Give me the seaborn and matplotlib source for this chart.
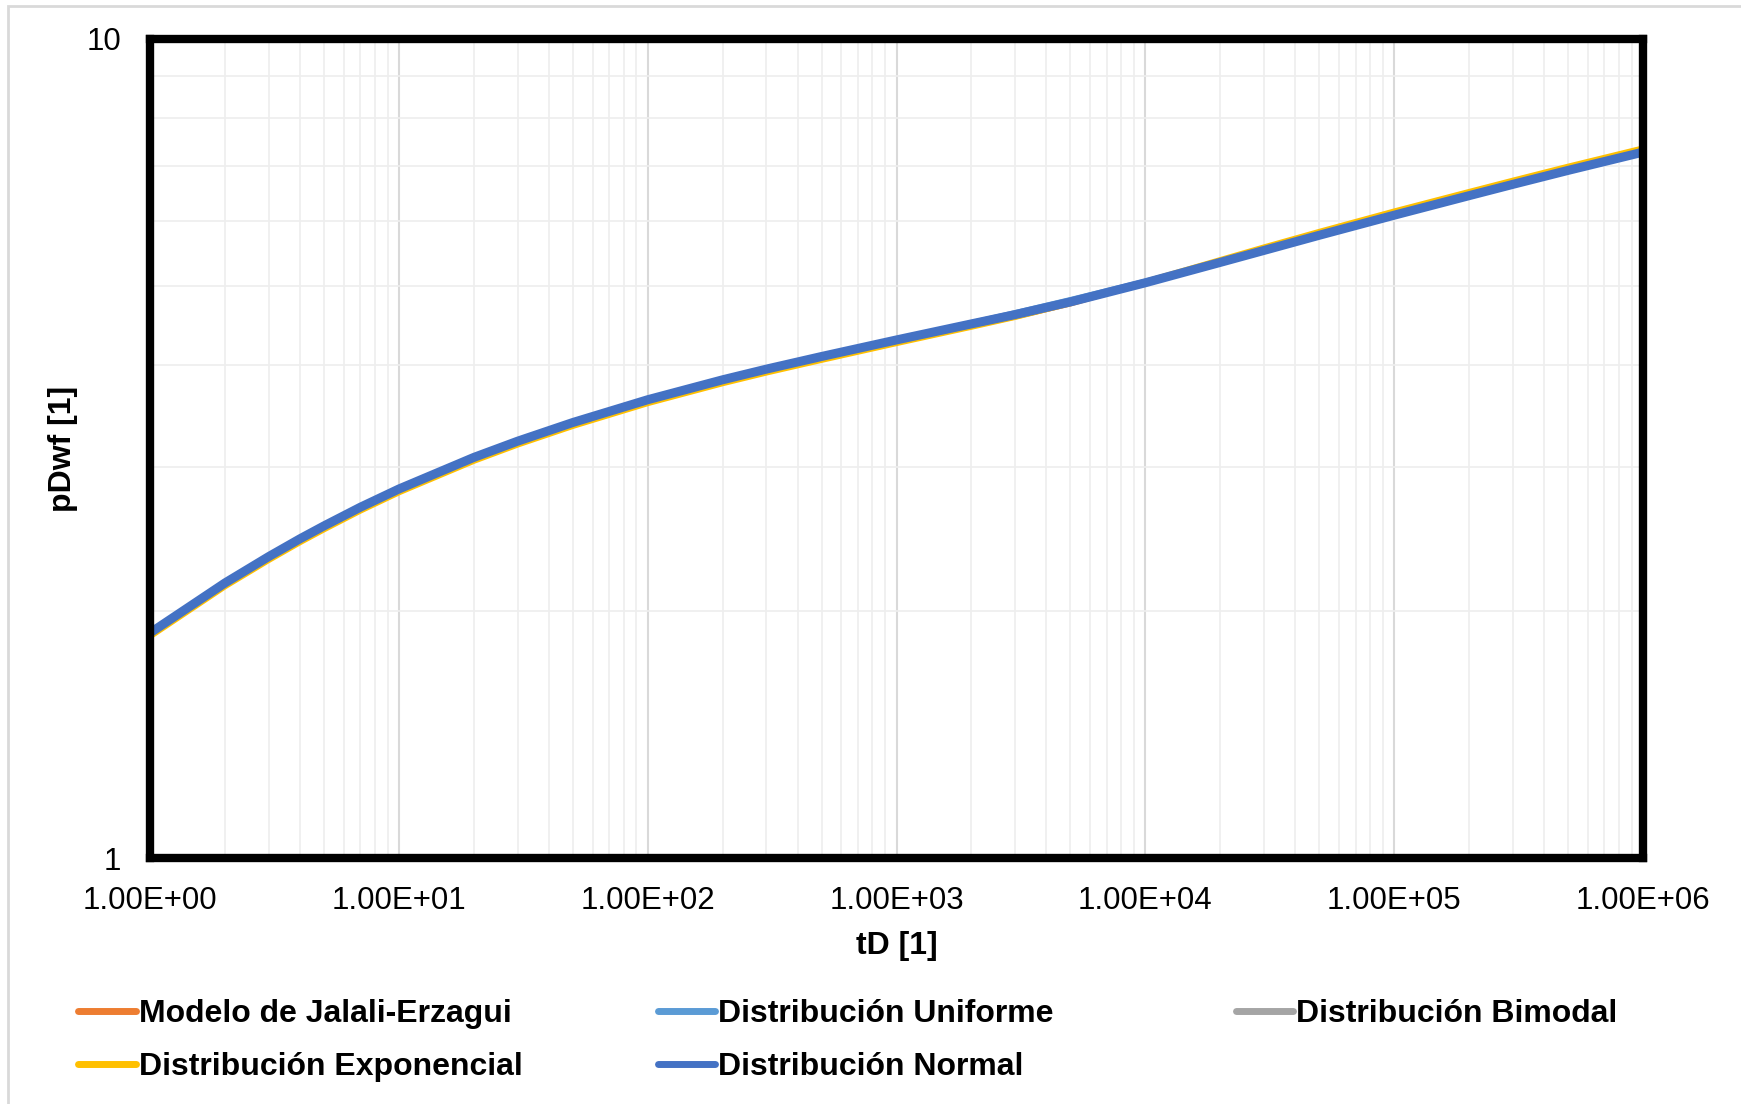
import numpy as np
import pandas as pd
import matplotlib
matplotlib.use("Agg")
import matplotlib.pyplot as plt
import seaborn as sns
from matplotlib.patches import Rectangle
from matplotlib.ticker import LogLocator, FixedLocator, NullFormatter

# tiempos adimensionales
tD = [1, 2, 3, 4, 5, 7, 10, 20, 30, 50, 100, 200, 300, 500, 1e3, 2e3, 3e3, 5e3,
      1e4, 2e4, 3e4, 5e4, 1e5, 2e5, 3e5, 5e5, 1e6]

# presion adimensional por modelo
p_normal = [1.883, 2.167, 2.334, 2.453, 2.544, 2.681, 2.822, 3.084, 3.228, 3.402, 3.627,
            3.836, 3.953, 4.096, 4.291, 4.489, 4.608, 4.775, 5.039, 5.336, 5.519, 5.759,
            6.093, 6.437, 6.645, 6.911, 7.275]
p_exponencial = [1.866, 2.148, 2.313, 2.431, 2.521, 2.657, 2.797, 3.056, 3.199, 3.371,
                 3.594, 3.801, 3.917, 4.059, 4.255, 4.455, 4.580, 4.761, 5.049, 5.368,
                 5.563, 5.811, 6.154, 6.501, 6.711, 6.980, 7.348]
p_jalali = [1.875, 2.158, 2.325, 2.443, 2.534, 2.670, 2.811, 3.072, 3.215, 3.388, 3.612,
            3.821, 3.937, 4.080, 4.274, 4.462, 4.580, 4.751, 5.039, 5.347, 5.530, 5.771,
            6.105, 6.450, 6.658, 6.925, 7.290]
p_uniforme = [1.883, 2.167, 2.334, 2.453, 2.544, 2.681, 2.822, 3.084, 3.228, 3.402, 3.627,
              3.836, 3.953, 4.096, 4.291, 4.502, 4.631, 4.804, 5.059, 5.341, 5.519, 5.759,
              6.093, 6.437, 6.645, 6.911, 7.275]
p_bimodal = [1.883, 2.167, 2.334, 2.453, 2.544, 2.681, 2.822, 3.084, 3.228, 3.402, 3.627,
             3.836, 3.953, 4.096, 4.291, 4.489, 4.608, 4.775, 5.039, 5.336, 5.519, 5.759,
             6.093, 6.437, 6.645, 6.911, 7.275]

series = [
    ("Modelo de Jalali-Erzagui", p_jalali, "#ED7D31", 4.0),
    ("Distribución Uniforme", p_uniforme, "#5B9BD5", 4.0),
    ("Distribución Bimodal", p_bimodal, "#A5A5A5", 4.0),
    ("Distribución Exponencial", p_exponencial, "#FFC000", 4.6),
    ("Distribución Normal", p_normal, "#4472C4", 6.5),
]

sns.set_style("white")
plt.rcParams['font.family'] = ['Liberation Sans', 'DejaVu Sans']
plt.rcParams['text.color'] = 'black'
plt.rcParams['axes.labelcolor'] = 'black'

fig = plt.figure(figsize=(17.41, 11.04), dpi=100)
ax = fig.add_axes([0.0862, 0.2228, 0.8575, 0.7419])

for name, vals, color, lw in series:
    df = pd.DataFrame({"tD": tD, "pDwf": vals})
    sns.lineplot(data=df, x="tD", y="pDwf", ax=ax, color=color, linewidth=lw,
                 label=name, solid_capstyle="butt", solid_joinstyle="round")

ax.set_xscale("log")
ax.set_yscale("log")
ax.set_xlim(1, 1e6)
ax.set_ylim(1, 10)

ax.xaxis.set_major_locator(FixedLocator([10.0 ** k for k in range(7)]))
ax.set_xticklabels([f"1.00E+{k:02d}" for k in range(7)])
ax.xaxis.set_minor_locator(LogLocator(base=10, subs=np.arange(2, 10)))
ax.xaxis.set_minor_formatter(NullFormatter())
ax.yaxis.set_major_locator(FixedLocator([1, 10]))
ax.set_yticklabels(["1", "10"])
ax.yaxis.set_minor_locator(LogLocator(base=10, subs=np.arange(2, 10)))
ax.yaxis.set_minor_formatter(NullFormatter())

ax.grid(which="major", color="#D9D9D9", linewidth=1.5)
ax.grid(which="minor", color="#EEEEEE", linewidth=1.2)
ax.set_axisbelow(True)
ax.tick_params(which="both", length=0, labelsize=22.5, colors="black")
ax.tick_params(axis="x", pad=20)
ax.tick_params(axis="y", pad=21)

for s in ax.spines.values():
    s.set_visible(True)
    s.set_color("black")
    s.set_linewidth(6)

ax.set_xlabel("tD [1]", fontsize=23, fontweight="bold", labelpad=11, color="black")
ax.set_ylabel("pDwf [1]", fontsize=23, fontweight="bold", labelpad=6, color="black")

# leyenda: tres columnas de igual ancho, como en Excel
h, l = ax.get_legend_handles_labels()
ax.get_legend().remove()
columnas = [[0, 3], [1, 4], [2]]
x_cols = [0.0359, 0.3685, 0.7005]
for idx, xc in zip(columnas, x_cols):
    leg = fig.legend([h[i] for i in idx], [l[i] for i in idx], loc="upper left",
                     bbox_to_anchor=(xc, 0.1097), frameon=False, borderpad=0,
                     prop={"size": 23, "weight": "bold"}, handlelength=1.8,
                     handletextpad=0.1, labelspacing=0.72, labelcolor="black")
    for lh in leg.get_lines():
        lh.set_linewidth(5)
        lh.set_solid_capstyle("round")

# borde del area del grafico
fig.patches.append(Rectangle((0.0046, -0.01), 1.2, 1.0045, transform=fig.transFigure,
                             fill=False, edgecolor="#D9D9D9", linewidth=2))

fig.savefig("out.png", dpi=100)
